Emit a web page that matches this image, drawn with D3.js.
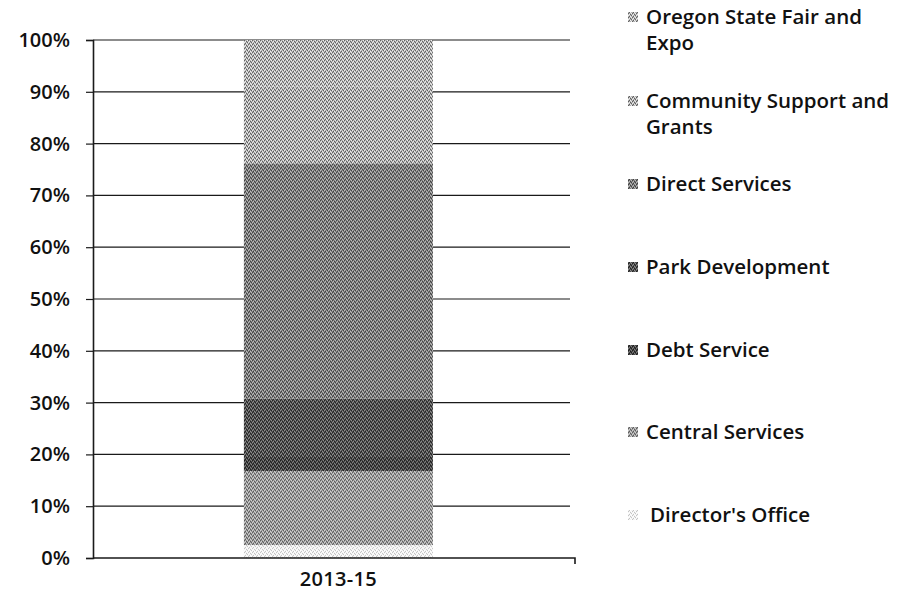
<!DOCTYPE html>
<html>
<head>
<meta charset="utf-8">
<script src="https://cdn.jsdelivr.net/npm/d3@7"></script>
<style>
  html, body { margin: 0; padding: 0; background: #fff; }
  svg text { font-family: "Open Sans", "DejaVu Sans", sans-serif; fill: #111; }
</style>
</head>
<body>
<svg id="chart" width="909" height="595"></svg>
<script>
// Budget share by program, 2013-15 biennium (100% stacked column)
const categories = ["2013-15"];
const seriesNames = [
  "Director's Office",
  "Central Services",
  "Debt Service",
  "Park Development",
  "Direct Services",
  "Community Support and Grants",
  "Oregon State Fair and Expo"
];
// share of total, in percent (bottom to top)
const seriesValues = [2.5, 14.3, 2.7, 11.3, 45.4, 14.8, 9.0];
const yTicks = [0, 10, 20, 30, 40, 50, 60, 70, 80, 90, 100];
const legendLines = [
  ["Oregon State Fair and", "Expo"],
  ["Community Support and", "Grants"],
  ["Direct Services"],
  ["Park Development"],
  ["Debt Service"],
  ["Central Services"],
  ["Director's Office"]
];
const legendOrder = [6, 5, 4, 3, 2, 1, 0];

// pattern fills: base tone plus pixel texture
const fills = [
  { base: "#f2f2f2", dot: "#c4c4c4", light: "#ffffff" },
  { base: "#9c9c9c", dot: "#5e5e5e", light: "#d2d2d2" },
  { base: "#474747", dot: "#1c1c1c", light: "#808080" },
  { base: "#525252", dot: "#222222", light: "#8e8e8e" },
  { base: "#7e7e7e", dot: "#414141", light: "#bcbcbc" },
  { base: "#b0b0b0", dot: "#5e5e5e", light: "#ededed" },
  { base: "#b4b4b4", dot: "#646464", light: "#f0f0f0" }
];

const svg = d3.select("#chart");
const defs = svg.append("defs");
fills.forEach((f, i) => {
  const p = defs.append("pattern")
    .attr("id", "pat" + i)
    .attr("patternUnits", "userSpaceOnUse")
    .attr("width", 4).attr("height", 4);
  p.append("rect").attr("width", 4).attr("height", 4).attr("fill", f.base);
  [[0, 0], [2, 1], [1, 3], [3, 2]].forEach(([x, y]) =>
    p.append("rect").attr("x", x).attr("y", y).attr("width", 1).attr("height", 1).attr("fill", f.dot));
  [[1, 1], [3, 0], [0, 2], [2, 3]].forEach(([x, y]) =>
    p.append("rect").attr("x", x).attr("y", y).attr("width", 1).attr("height", 1).attr("fill", f.light));
});

const plot = { left: 93, right: 575, top: 40, bottom: 558 };

const x = d3.scaleBand()
  .domain(categories)
  .range([plot.left, plot.right])
  .paddingInner(0)
  .paddingOuter(0.775)
  .align(0.515);

const y = d3.scaleLinear().domain([0, 100]).range([plot.bottom, plot.top]);

// horizontal gridlines
svg.append("g")
  .selectAll("line")
  .data(yTicks.filter(t => t > 0))
  .join("line")
  .attr("x1", plot.left).attr("x2", 570)
  .attr("y1", d => y(d)).attr("y2", d => y(d))
  .attr("stroke", "#1a1a1a").attr("stroke-width", 1.2);

// stacked segments
const stackRow = {};
seriesNames.forEach((s, i) => stackRow[s] = seriesValues[i]);
const stacked = d3.stack().keys(seriesNames)([stackRow]);

svg.append("g")
  .selectAll("rect")
  .data(stacked)
  .join("rect")
  .attr("x", x(categories[0]))
  .attr("width", x.bandwidth())
  .attr("y", d => y(d[0][1]))
  .attr("height", d => y(d[0][0]) - y(d[0][1]))
  .attr("fill", (d, i) => `url(#pat${i})`);

// y axis
const yAxis = d3.axisLeft(y)
  .tickValues(yTicks)
  .tickFormat(d => d + "%")
  .tickSize(7)
  .tickPadding(16);
const gy = svg.append("g")
  .attr("transform", `translate(${plot.left},0)`)
  .call(yAxis);
gy.select(".domain").attr("stroke", "#1a1a1a").attr("stroke-width", 1.6);
gy.selectAll(".tick line").attr("stroke", "#1a1a1a").attr("stroke-width", 1.2);
gy.selectAll(".tick text")
  .style("font-family", "'Open Sans', sans-serif")
  .style("font-size", "20px")
  .style("font-weight", 600)
  .attr("fill", "#111");

// x axis
const xAxis = d3.axisBottom(x).tickSize(0).tickPadding(14);
const gx = svg.append("g")
  .attr("transform", `translate(0,${plot.bottom})`)
  .call(xAxis);
gx.select(".domain").attr("stroke", "#1a1a1a").attr("stroke-width", 1.6)
  .attr("d", `M${plot.left},0H${plot.right}V6`);
gx.selectAll(".tick text")
  .style("font-family", "'Open Sans', sans-serif")
  .style("font-size", "20px")
  .style("font-weight", 600)
  .style("letter-spacing", "0.3px")
  .attr("fill", "#111");

// legend
const legendY = [17, 101, 184, 267, 350, 432, 515];
const lg = svg.append("g");
legendOrder.forEach((si, k) => {
  const g = lg.append("g").attr("transform", `translate(628,${legendY[k]})`);
  g.append("rect")
    .attr("x", 0).attr("y", -5).attr("width", 10).attr("height", 10)
    .attr("fill", `url(#pat${si})`);
  legendLines[k].forEach((line, j) => {
    g.append("text")
      .attr("x", si === 0 ? 22 : 18).attr("y", j * 26)
      .attr("dy", "0.35em")
      .style("font-size", "20.5px")
      .style("font-weight", 600)
      .text(line);
  });
});
</script>
</body>
</html>
